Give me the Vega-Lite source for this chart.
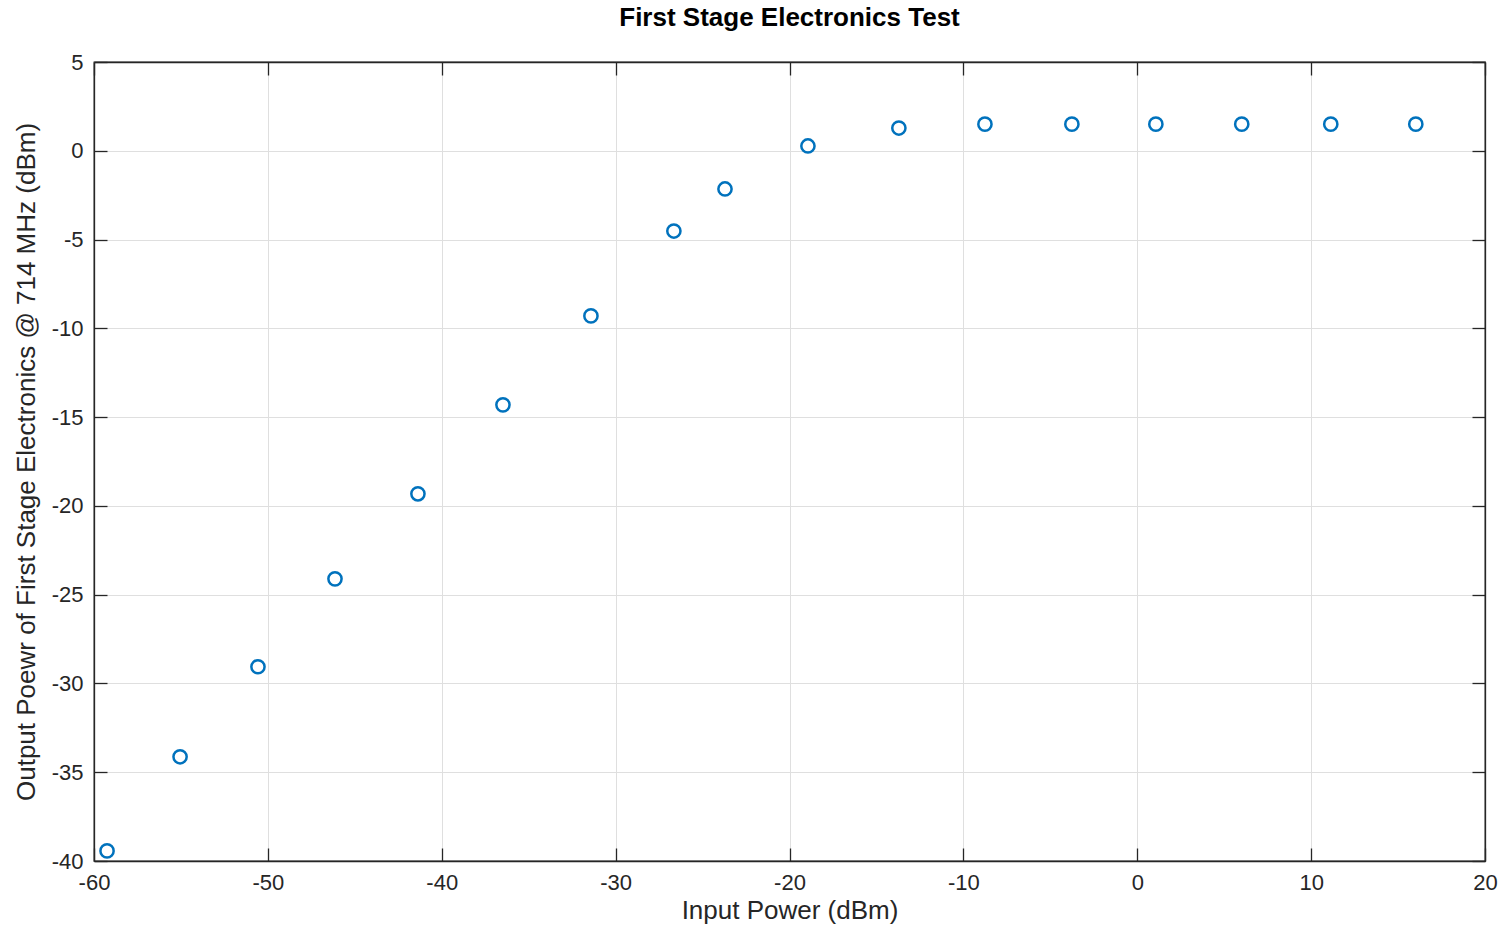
{
  "$schema": "https://vega.github.io/schema/vega-lite/v6.json",
  "autosize": "none",
  "width": 1391,
  "height": 799,
  "padding": {"left": 94, "top": 62, "right": 13, "bottom": 65},
  "background": "white",
  "title": {"text": "First Stage Electronics Test", "font": "Liberation Sans", "fontSize": 26, "fontWeight": "bold", "color": "#000000", "anchor": "middle", "offset": -6, "baseline": "bottom"},
  "config": {
    "view": {"stroke": "#262626", "strokeWidth": 1.3},
    "axis": {"domainColor": "#262626", "tickColor": "#262626", "labelColor": "#262626", "titleColor": "#262626", "labelFont": "Liberation Sans", "titleFont": "Liberation Sans", "labelFontSize": 22, "titleFontSize": 26, "titleFontWeight": "normal", "gridColor": "#dfdfdf", "gridWidth": 1, "tickSize": -13, "tickWidth": 1.3, "domainWidth": 1.3}
  },
  "data": {"values": [
    {"input": -59.25, "output": -39.43},
    {"input": -55.05, "output": -34.13},
    {"input": -50.57, "output": -29.06},
    {"input": -46.14, "output": -24.11},
    {"input": -41.37, "output": -19.32},
    {"input": -36.48, "output": -14.31},
    {"input": -31.42, "output": -9.30},
    {"input": -26.65, "output": -4.52},
    {"input": -23.71, "output": -2.15},
    {"input": -18.94, "output": 0.27},
    {"input": -13.71, "output": 1.28},
    {"input": -8.76, "output": 1.5},
    {"input": -3.76, "output": 1.5},
    {"input": 1.07, "output": 1.5},
    {"input": 6.01, "output": 1.5},
    {"input": 11.13, "output": 1.5},
    {"input": 16.02, "output": 1.5}
  ]},
  "layer": [
    {
      "mark": {"type": "point", "shape": "circle", "filled": false, "color": "#0072BD", "size": 175, "strokeWidth": 2.5, "opacity": 1},
      "encoding": {
        "x": {"field": "input", "type": "quantitative", "scale": {"domain": [-60, 20], "nice": false, "zero": false}, "axis": {"title": "Input Power (dBm)", "values": [-60,-50,-40,-30,-20,-10,0,10,20], "labelExpr": "datum.value < 0 ? '-' + abs(datum.value) : '' + datum.value", "labelPadding": 24, "titlePadding": 4, "labelFlush": false, "labelOverlap": false}},
        "y": {"field": "output", "type": "quantitative", "scale": {"domain": [-40, 5], "nice": false, "zero": false}, "axis": {"title": "Output Poewr of First Stage Electronics @ 714 MHz (dBm)", "values": [-40,-35,-30,-25,-20,-15,-10,-5,0,5], "labelExpr": "datum.value < 0 ? '-' + abs(datum.value) : '' + datum.value", "labelPadding": 24, "titlePadding": 12, "labelFlush": false, "labelOverlap": false}}
      }
    },
    {
      "mark": {"type": "point", "opacity": 0},
      "encoding": {
        "x": {"field": "input", "type": "quantitative", "axis": {"orient": "top", "title": null, "labels": false, "grid": false, "values": [-60,-50,-40,-30,-20,-10,0,10,20]}},
        "y": {"field": "output", "type": "quantitative", "axis": {"orient": "right", "title": null, "labels": false, "grid": false, "values": [-40,-35,-30,-25,-20,-15,-10,-5,0,5]}}
      }
    }
  ],
  "resolve": {"axis": {"x": "independent", "y": "independent"}}
}
